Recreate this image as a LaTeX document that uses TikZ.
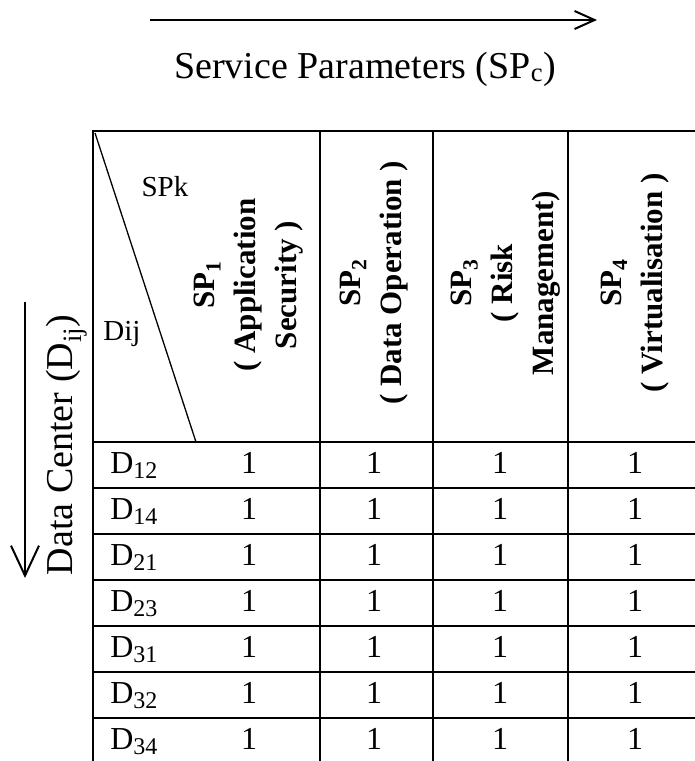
\documentclass[tikz,border=0pt]{standalone}
\usepackage{fontspec}
\setmainfont{Liberation Serif}
\usepackage{tikz}
\usetikzlibrary{arrows.meta}

\tikzset{
    head/.style={rotate=90, align=center, font=\fontsize{31}{41}\selectfont\bfseries},
    cell/.style={anchor=base, font=\fontsize{32}{38}\selectfont},
    corner/.style={anchor=base, font=\fontsize{29}{34}\selectfont},
    label/.style={anchor=base, font=\fontsize{38}{44}\selectfont}
}
\newcommand{\rowsub}[1]{\raisebox{-5pt}{\fontsize{24}{28}\selectfont #1}}

\begin{document}
\begin{tikzpicture}[x=1pt, y=-1pt, line width=2pt]

        \useasboundingbox (0,0) rectangle (695,761);

        \def\topleft{(93,131)}
        \def\botright{(696,764)}

        % axis arrows
        \coordinate (spstart) at (150,20);
        \coordinate (spend) at (597,20);
        \coordinate (dcstart) at (25,302);
        \coordinate (dcend) at (25,578);
        \draw[-{Straight Barb[length=20pt, width=18pt]}] (spstart) -- (spend);
        \draw[-{Straight Barb[length=30pt, width=28pt]}] (dcstart) -- (dcend);
        \node (spc) [label] at (365,78) {Service Parameters (SP\textsubscript{c})};
        \node (dc) [label, rotate=90] at (72,445) {Data Center (D\textsubscript{ij})};

        % table grid
        \draw \topleft rectangle \botright;
        \foreach \x in {320,433,568}
            \draw (\x,131) -- (\x,764);
        \foreach \y in {442,488,534,580,626,672,718}
            \draw (93,\y) -- (696,\y);
        \draw[line width=1.3pt] (95,133) -- (196,442);

        % header
        \node (spk) [corner] at (165,196) {SPk};
        \node (dij) [corner] at (122,340) {Dij};
        \node (sp1) [head] at (249,285) {SP\textsubscript{1}\\( Application\\Security )};
        \node (sp2) [head] at (374,283) {SP\textsubscript{2}\\( Data Operation )};
        \node (sp3) [head] at (506,283) {SP\textsubscript{3}\\( Risk\\Management)};
        \node (sp4) [head] at (635,283) {SP\textsubscript{4}\\( Virtualisation )};

        % rows
        \foreach \d [count=\i] in {12,14,21,23,31,32,34} {
            \node (d\d) [cell, anchor=base west] at (106,427+46*\i) {D\rowsub{\d}};
            \foreach \x [count=\j] in {249,374,500,635}
                \node (v\d\j) [cell] at (\x,427+46*\i) {1};
        }
        \end{tikzpicture}
\end{document}
